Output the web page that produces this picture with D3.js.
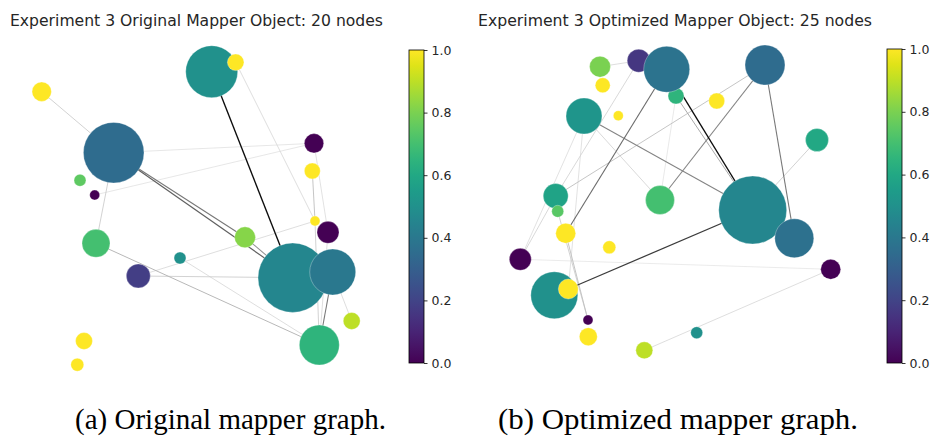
<!DOCTYPE html>
<html><head><meta charset="utf-8">
<script src="https://cdn.jsdelivr.net/npm/d3@7"></script>
<style>body{margin:0;background:#fff;} svg{display:block;}</style>
</head><body>
<script>
// ---- DATA ----
const titles = ["Experiment 3 Original Mapper Object: 20 nodes", "Experiment 3 Optimized Mapper Object: 25 nodes"];
const captions = ["(a) Original mapper graph.", "(b) Optimized mapper graph."];
const colorbarTicks = [0, 0.2, 0.4, 0.6, 0.8, 1.0];

// Original graph: layout x, layout y, radius, colour value
const origX = [211.7,235.7,41.7,113.7,314,312.3,80,94.7,315,328,245,96,180,138.3,292.7,332.7,351.7,319.3,84,77.3];
const origY = [71.7,62.3,91.7,152.7,143.3,171,180.3,195,221,232.3,237.3,243.3,258,276,277.7,272,321,345,341,364.7];
const origR = [26,8.3,9.7,30.3,9.7,8,6,5,5,11,10.5,14,6,12,34.7,23,8.5,20,8.5,6.5];
const origV = [0.5,1,1,0.35,0,1,0.75,0,1,0,0.82,0.7,0.5,0.18,0.46,0.4,0.9,0.65,1,1];
const origEdges = [[2,3,0.15],[0,14,0.95],[1,8,0.1],[3,14,0.6],[3,10,0.5],[10,14,0.4],[3,11,0.15],
  [11,17,0.25],[13,14,0.15],[13,8,0.1],[12,17,0.1],[3,4,0.06],[7,4,0.06],[5,8,0.2],[8,17,0.15],
  [9,17,0.1],[15,17,0.5],[15,16,0.1],[4,9,0.08]];

// Optimized graph
const optX = [130,168.7,206,196.7,132.7,295,246.7,148.3,114,347,85.7,190,282.7,87.7,95.7,139.3,324.3,50.3,360.7,84.3,98.3,118,118.3,174.3,226.7];
const optY = [66.7,60.7,96,69.3,85.3,65,101,115.7,116,140,196,200,210,211.3,233.3,247.3,238.3,259.3,269.3,295.3,289,320,336.7,350.3,332.7];
const optR = [10.5,11.5,8,23,7.5,20,8,5,18,11.5,12.5,14.5,34,6,10,6.5,19.5,11,10,23.5,10,5,9,8.5,6];
const optV = [0.8,0.16,0.65,0.38,1,0.35,1,1,0.52,0.6,0.58,0.7,0.46,0.74,1,1,0.37,0,0,0.5,1,0,1,0.9,0.5];
const optEdges = [[0,1,0.1],[3,12,0.95],[2,12,0.3],[3,14,0.55],[1,10,0.12],[8,12,0.45],[8,11,0.12],
  [8,17,0.08],[8,20,0.08],[5,10,0.2],[5,11,0.45],[5,16,0.5],[9,12,0.15],[12,20,0.75],[17,18,0.04],
  [23,18,0.1],[13,21,0.15],[14,21,0.2],[10,17,0.12],[2,11,0.05],[10,13,0.1]];

// ---- DRAW ----
const W = 935, H = 438;
const svg = d3.select("body").append("svg").attr("width", W).attr("height", H);
const color = d3.scaleSequential(d3.interpolateViridis).domain([0, 1]);
const edgeColor = d3.scaleLinear().domain([0, 1]).range(["#f0f0f0", "#000000"]);
const edgeWidth = d3.scaleLinear().domain([0, 1]).range([0.8, 1.4]);

const defs = svg.append("defs");
const grad = defs.append("linearGradient").attr("id", "viridis").attr("x1", 0).attr("y1", 1).attr("x2", 0).attr("y2", 0);
d3.range(0, 1.0001, 0.05).forEach(t => grad.append("stop").attr("offset", t).attr("stop-color", color(t)));

const panels = [
  {xs: origX, ys: origY, rs: origR, vs: origV, edges: origEdges, x0: 0, title: titles[0], titleX: 10, titleLen: 373,
   cbX: 409, cbTop: 50, cbBot: 363, cap: captions[0], capCX: 230.5, capLen: 311},
  {xs: optX, ys: optY, rs: optR, vs: optV, edges: optEdges, x0: 470, title: titles[1], titleX: 478, titleLen: 394,
   cbX: 887, cbTop: 49, cbBot: 363, cap: captions[1], capCX: 678, capLen: 360}
];

panels.forEach(p => {
  const x = d3.scaleLinear().domain([0, 400]).range([p.x0, p.x0 + 400]);
  const y = d3.scaleLinear().domain([0, 400]).range([0, 400]);
  const r = d3.scaleLinear().domain([0, 40]).range([0, 40]);
  const g = svg.append("g");
  const nodes = p.xs.map((v, i) => ({x: v, y: p.ys[i], r: p.rs[i], v: p.vs[i]}));
  const edges = p.edges.map(e => ({s: nodes[e[0]], t: nodes[e[1]], w: e[2]})).sort((a, b) => a.w - b.w);
  g.selectAll("line.edge").data(edges).join("line").attr("class", "edge")
    .attr("x1", d => x(d.s.x)).attr("y1", d => y(d.s.y))
    .attr("x2", d => x(d.t.x)).attr("y2", d => y(d.t.y))
    .attr("stroke", d => edgeColor(d.w)).attr("stroke-width", d => edgeWidth(d.w));
  g.selectAll("circle.node").data(nodes).join("circle").attr("class", "node")
    .attr("cx", d => x(d.x)).attr("cy", d => y(d.y)).attr("r", d => r(d.r))
    .attr("fill", d => color(d.v)).attr("stroke", "#ffffff").attr("stroke-opacity", 0.5).attr("stroke-width", 0.6);

  svg.append("text").attr("x", p.titleX).attr("y", 26).text(p.title)
    .attr("font-family", "DejaVu Sans").attr("font-size", 15.5).attr("fill", "#262626")
    .attr("textLength", p.titleLen).attr("lengthAdjust", "spacingAndGlyphs");

  // colorbar
  const cbW = 15;
  svg.append("rect").attr("x", p.cbX).attr("y", p.cbTop).attr("width", cbW).attr("height", p.cbBot - p.cbTop)
    .attr("fill", "url(#viridis)").attr("stroke", "#000").attr("stroke-width", 0.8);
  const cy = d3.scaleLinear().domain([0, 1]).range([p.cbBot, p.cbTop]);
  const ax = svg.append("g").attr("transform", `translate(${p.cbX + cbW},0)`)
    .call(d3.axisRight(cy).tickValues(colorbarTicks).tickFormat(d3.format(".1f")).tickSize(3.5).tickPadding(4));
  ax.select(".domain").remove();
  ax.selectAll("line").attr("stroke", "#000").attr("stroke-width", 0.8);
  ax.selectAll("text").attr("font-family", "DejaVu Sans").attr("font-size", 12.5).attr("fill", "#262626");

  svg.append("text").attr("x", p.capCX).attr("y", 429).attr("text-anchor", "middle").text(p.cap)
    .attr("font-family", "Liberation Serif, Times New Roman, serif").attr("font-size", 30).attr("fill", "#000")
    .attr("textLength", p.capLen).attr("lengthAdjust", "spacingAndGlyphs");
});
</script>
</body></html>
